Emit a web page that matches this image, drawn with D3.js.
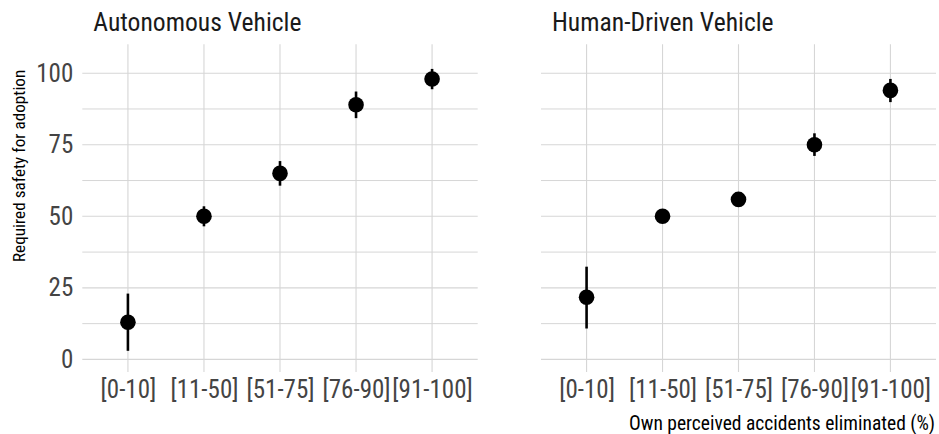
<!DOCTYPE html>
<html>
<head>
<meta charset="utf-8">
<script src="https://cdn.jsdelivr.net/npm/d3@7"></script>
<style>
  html, body { margin: 0; padding: 0; background: #fff; }
  svg { display: block; }
  text { font-family: "Roboto Condensed", "Roboto", sans-serif; font-stretch: condensed; }
</style>
</head>
<body>
<svg id="chart" width="939" height="434"></svg>
<script>
// ---- data ----
const categories = ["[0-10]", "[11-50]", "[51-75]", "[76-90]", "[91-100]"];
const panels = ["Autonomous Vehicle", "Human-Driven Vehicle"];
const autoMean = [13, 50, 65, 89, 98];
const autoLow  = [3, 46.5, 60.7, 84.3, 94.4];
const autoHigh = [23, 53.5, 69.3, 93.6, 101.5];
const humanMean = [21.7, 50, 55.9, 75, 94];
const humanLow  = [10.8, 48.5, 54, 71.1, 89.9];
const humanHigh = [32.4, 51.5, 58, 79, 98];
const yTicks = [0, 25, 50, 75, 100];
const yMinor = [12.5, 37.5, 62.5, 87.5];
const yTitle = "Required safety for adoption";
const xTitle = "Own perceived accidents eliminated (%)";

const seriesList = [
  { mean: autoMean, low: autoLow, high: autoHigh },
  { mean: humanMean, low: humanLow, high: humanHigh }
];

const svg = d3.select("#chart");
const gridColor = "#d6d6d6";
const panelTop = 44.3, panelBottom = 370;
const panelX = [[82.3, 477.7], [541, 936]];

const y = d3.scaleLinear().domain([-3.7, 110.1]).range([panelBottom, panelTop]);

panelX.forEach((rng, i) => {
  const x = d3.scalePoint().domain(categories).range(rng).padding(0.6);
  const g = svg.append("g");
  const s = seriesList[i];

  // horizontal grid (major + minor)
  g.selectAll("line.hmin").data(yMinor).join("line")
    .attr("x1", rng[0]).attr("x2", rng[1])
    .attr("y1", d => y(d)).attr("y2", d => y(d))
    .attr("stroke", gridColor).attr("stroke-width", 1);
  g.selectAll("line.hmaj").data(yTicks).join("line")
    .attr("x1", rng[0]).attr("x2", rng[1])
    .attr("y1", d => y(d)).attr("y2", d => y(d))
    .attr("stroke", gridColor).attr("stroke-width", 1.1);
  // vertical grid
  g.selectAll("line.v").data(categories).join("line")
    .attr("x1", d => x(d)).attr("x2", d => x(d))
    .attr("y1", panelTop).attr("y2", panelBottom + 2)
    .attr("stroke", gridColor).attr("stroke-width", 1.1);

  // x axis tick labels via d3 axis
  const xa = g.append("g").attr("transform", `translate(0,${panelBottom})`)
    .call(d3.axisBottom(x).tickSize(0).tickPadding(10));
  xa.select(".domain").remove();
  xa.selectAll("text").attr("font-size", 25).attr("fill", "#444")
    .attr("font-family", null);

  if (i === 0) {
    const ya = g.append("g").attr("transform", `translate(${rng[0]},0)`)
      .call(d3.axisLeft(y).tickValues(yTicks).tickSize(0).tickPadding(9));
    ya.select(".domain").remove();
    ya.selectAll("text").attr("font-size", 25).attr("fill", "#444")
      .attr("font-family", null);
  }

  // error bars
  g.selectAll("line.err").data(categories).join("line")
    .attr("x1", d => x(d)).attr("x2", d => x(d))
    .attr("y1", (d, j) => y(s.low[j])).attr("y2", (d, j) => y(s.high[j]))
    .attr("stroke", "#000").attr("stroke-width", 2.6);
  // points
  g.selectAll("circle").data(categories).join("circle")
    .attr("cx", d => x(d)).attr("cy", (d, j) => y(s.mean[j]))
    .attr("r", 7.8).attr("fill", "#000");

  // panel title
  svg.append("text").attr("x", rng[0] + 11).attr("y", 30.7)
    .attr("font-size", 25.6).attr("fill", "#1a1a1a").text(panels[i]);
});

// axis titles
svg.append("text")
  .attr("transform", `translate(25,262) rotate(-90)`)
  .attr("font-size", 17.2).attr("fill", "#000").text(yTitle);
svg.append("text").attr("x", 935).attr("y", 429.5).attr("text-anchor", "end")
  .attr("font-size", 19.5).attr("fill", "#000").text(xTitle);
</script>
</body>
</html>
